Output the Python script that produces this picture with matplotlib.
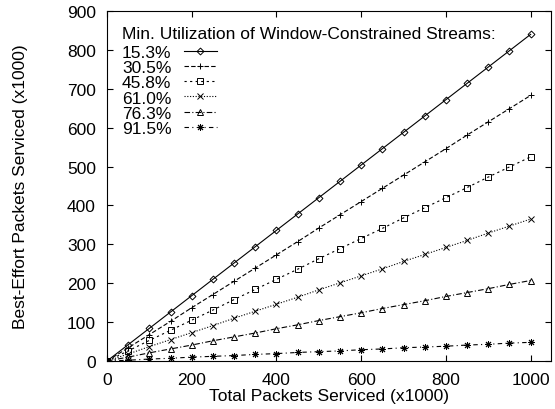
import matplotlib
matplotlib.use("Agg")
import matplotlib.pyplot as plt
import numpy as np

plt.rcParams['font.family'] = ['Liberation Sans', 'DejaVu Sans']

total = [0, 50, 100, 150, 200, 250, 300, 350, 400, 450, 500, 550, 600, 650,
         700, 750, 800, 850, 900, 950, 1000]
labels = ["15.3%", "30.5%", "45.8%", "61.0%", "76.3%", "91.5%"]
s153 = [0, 42, 84, 126, 168, 210, 252, 294, 336, 378, 420, 462, 504, 546,
        588, 630, 672, 714, 756, 798, 840]
s305 = [0, 34, 68, 102, 137, 171, 205, 239, 273, 307, 342, 376, 410, 444,
        478, 512, 546, 581, 615, 649, 683]
s458 = [0, 26, 53, 79, 105, 131, 158, 184, 210, 236, 263, 289, 315, 341,
        368, 394, 420, 446, 473, 499, 525]
s610 = [0, 18, 37, 55, 73, 91, 110, 128, 146, 164, 183, 201, 219, 237,
        256, 274, 292, 310, 329, 347, 365]
s763 = [0, 10, 21, 31, 41, 52, 62, 72, 83, 93, 104, 114, 124, 135,
        145, 155, 166, 176, 186, 197, 207]
s915 = [0, 2, 5, 7, 10, 12, 14, 17, 19, 22, 24, 26, 29, 31,
        34, 36, 38, 41, 43, 46, 48]
series = [s153, s305, s458, s610, s763, s915]

styles = [
    dict(ls='-', marker='D', ms=3.5, mfc='none'),
    dict(ls=(0, (4, 2)), marker='+', ms=5),
    dict(ls=(0, (2, 3)), marker='s', ms=4.5, mfc='none'),
    dict(ls=(0, (1, 1.5)), marker='x', ms=4.5),
    dict(ls=(0, (5, 2, 1, 2)), marker='^', ms=4, mfc='none'),
    dict(ls=(0, (4, 3, 1, 3)), marker=(8, 2, 0), ms=5),
]

FS = 12.5
fig = plt.figure(figsize=(5.55, 4.10), dpi=100)
ax = fig.add_axes([107/555, 1-362/410, (551-107)/555, (362-12)/410])
for lab, ys, st in zip(labels, series, styles):
    ax.plot(total, ys, color='black', lw=0.8, mew=0.7, label=lab, **st)

ax.set_xlim(0, 1048)
ax.set_ylim(0, 900)
ax.set_xticks([0, 200, 400, 600, 800, 1000])
ax.set_yticks(np.arange(0, 901, 100))
ax.tick_params(direction='in', top=True, right=True, labelsize=FS, length=4)
ax.tick_params(axis='y', pad=8)
ax.tick_params(axis='x', pad=8)
for sp in ax.spines.values():
    sp.set_linewidth(0.8)
ax.set_xlabel("Total Packets Serviced (x1000)", fontsize=FS, labelpad=1)
ax.set_ylabel("Best-Effort Packets Serviced (x1000)", fontsize=FS, labelpad=28)

leg = ax.legend(loc='upper left', frameon=False, markerfirst=False,
                title="Min. Utilization of Window-Constrained Streams:",
                fontsize=FS, title_fontsize=FS, handlelength=1.9,
                labelspacing=0.0, borderaxespad=0.55, handletextpad=0.7,
                borderpad=0.3)
leg._legend_box.align = "left"
leg._legend_box.sep = 3

fig.savefig("out.png", dpi=100)
